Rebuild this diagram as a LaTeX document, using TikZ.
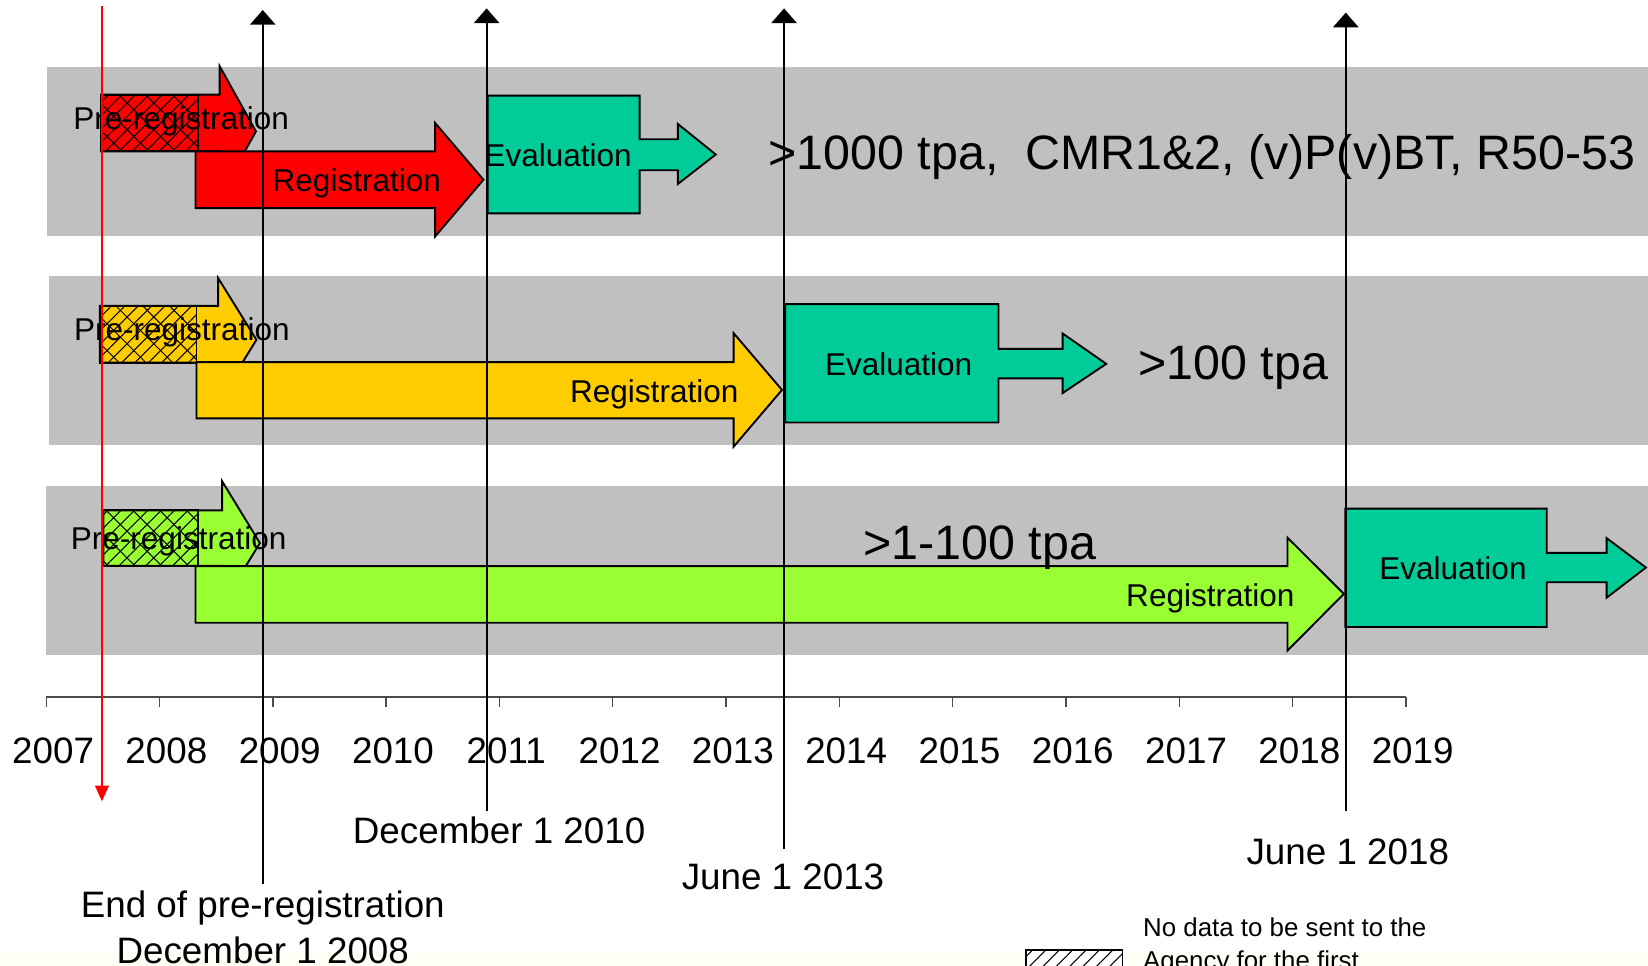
\documentclass[tikz,border=0pt]{standalone}
\usepackage{fontspec}
\setmainfont{Liberation Sans}
\usepackage{tikz}
\usetikzlibrary{arrows.meta,patterns.meta}
\definecolor{bandgrey}{RGB}{192,192,192}
\definecolor{regred}{RGB}{255,0,0}
\definecolor{regyellow}{RGB}{255,204,0}
\definecolor{reggreen}{RGB}{153,255,51}
\definecolor{evalgreen}{RGB}{0,204,153}
\definecolor{slidefoot}{RGB}{254,254,244}
\tikzstyle{band} = [fill=bandgrey]
\tikzstyle{outlined} = [draw=black, line width=0.9pt, line join=miter]
\tikzstyle{hatchA} = [pattern={Lines[angle=45,distance=4.5pt,line width=0.5pt]}, pattern color=black]
\tikzstyle{hatchB} = [pattern={Lines[angle=-45,distance=9pt,line width=0.5pt]}, pattern color=black]
\tikzstyle{phase} = [font=\fontsize{15}{18}\selectfont, inner sep=0pt, anchor=base]
\tikzstyle{group} = [font=\fontsize{23}{27}\selectfont, inner sep=0pt, anchor=base west]
\tikzstyle{year} = [font=\fontsize{17.5}{21}\selectfont, inner sep=0pt, anchor=base]
\tikzstyle{datelabel} = [font=\fontsize{17.5}{21}\selectfont, inner sep=0pt, anchor=base]
\tikzstyle{legendtext} = [font=\fontsize{12.3}{15}\selectfont, inner sep=0pt, anchor=base west]
\tikzstyle{milestone} = [draw, line width=1pt, -{Triangle[width=12pt,length=7pt]}]

\begin{document}
\begin{tikzpicture}[x=0.5pt, y=-0.5pt]
\useasboundingbox (0,0) rectangle (1568,919);
\clip (0,0) rectangle (1568,919);
\fill [slidefoot] (0,906) rectangle (1568,919);

% grey bands
\fill [band] (44.5,63.7) rectangle (1568,225);
\fill [band] (46.5,262.5) rectangle (1568,423.8);
\fill [band] (44,462) rectangle (1568,623.5);

% pre-registration arrows
\path [outlined, fill=regred] (96.5,90) -- (209,90) -- (209,63) -- (243.5,125) -- (209,187) -- (209,144) -- (96.5,144) -- cycle;
\path [outlined, fill=regyellow] (95,291) -- (207.6,291) -- (207.6,264.7) -- (244,323.3) -- (207.6,382) -- (207.6,345) -- (95,345) -- cycle;
\path [outlined, fill=reggreen] (98.3,485.6) -- (211.4,485.6) -- (211.4,458) -- (247.3,516.7) -- (211.4,575) -- (211.4,538.3) -- (98.3,538.3) -- cycle;

% no data period
\fill [hatchA] (96.5,90) rectangle (188.5,144);
\path [outlined, hatchB] (96.5,90) rectangle (188.5,144);
\fill [hatchA] (95,291) rectangle (187,345);
\path [outlined, hatchB] (95,291) rectangle (187,345);
\fill [hatchA] (98.3,485.6) rectangle (188,538.3);
\path [outlined, hatchB] (98.3,485.6) rectangle (188,538.3);

% registration arrows
\path [outlined, fill=regred] (186,144) -- (414,144) -- (414,117) -- (460,171) -- (414,225) -- (414,198) -- (186,198) -- cycle;
\path [outlined, fill=regyellow] (187,344.6) -- (698,344.6) -- (698,317) -- (744,371) -- (698,425) -- (698,398) -- (187,398) -- cycle;
\path [outlined, fill=reggreen] (186,538.6) -- (1225,538.6) -- (1225,511.6) -- (1278.6,565) -- (1225,619) -- (1225,592.5) -- (186,592.5) -- cycle;

% evaluation
\path [outlined, fill=evalgreen] (464,91) -- (608.5,91) -- (608.5,132.5) -- (645,132.5) -- (645,118) -- (681,147) -- (645,175) -- (645,162) -- (608.5,162) -- (608.5,203) -- (464,203) -- cycle;
\path [outlined, fill=evalgreen] (747,289.4) -- (950,289.4) -- (950,332) -- (1011,332) -- (1011,317.3) -- (1052.5,346.2) -- (1011,374) -- (1011,360) -- (950,360) -- (950,402) -- (747,402) -- cycle;
\path [outlined, fill=evalgreen] (1280,484) -- (1471.6,484) -- (1471.6,526) -- (1528.6,526) -- (1528.6,512) -- (1566,540) -- (1528.6,568.7) -- (1528.6,554) -- (1471.6,554) -- (1471.6,596.6) -- (1280,596.6) -- cycle;

\node [phase] (pre1) at (172.4,123) {Pre-registration};
\node [phase] (reg1) at (339.5,182) {Registration};
\node [phase] (eval1) at (531,158.5) {Evaluation};
\node [group] (tpa1000) at (731,161.7) {>1000 tpa,\ \ CMR1\&2, (v)P(v)BT, R50-53};

\node [phase] (pre2) at (173,323.5) {Pre-registration};
\node [phase] (reg2) at (622.5,382.6) {Registration};
\node [phase] (eval2) at (855,357.6) {Evaluation};
\node [group] (tpa100) at (1083,361) {>100 tpa};

\node [phase] (pre3) at (170,522.4) {Pre-registration};
\node [group, anchor=base] (tpa1) at (932.4,532) {>1-100 tpa};
\node [phase] (reg3) at (1151.6,576.6) {Registration};
\node [phase] (eval3) at (1382.4,551) {Evaluation};

% time axis
\draw [black!70, line width=0.7pt] (44,663) -- (1337.6,663);
\foreach \yr [count=\i from 0] in {2007,...,2019} {
  \draw [black!70, line width=0.7pt] (44+107.8*\i,663) -- (44+107.8*\i,673);
  \node [year] (y\yr) at (50.5+107.8*\i,726) {\yr};
}

% milestones
\coordinate (preTop) at (97,5.7);
\coordinate (preBot) at (97,762.4);
\coordinate (m08top) at (250,9.5);
\coordinate (m08bot) at (250,841);
\coordinate (m10top) at (463,8);
\coordinate (m10bot) at (463,772);
\coordinate (m13top) at (746,8);
\coordinate (m13bot) at (746,808);
\coordinate (m18top) at (1280.5,12);
\coordinate (m18bot) at (1280.5,772);

\draw [regred, line width=1pt, -{Triangle[width=6.5pt,length=7.5pt]}] (preTop) -- (preBot);
\path [milestone] (m08bot) -- (m08top);
\path [milestone] (m10bot) -- (m10top);
\path [milestone] (m13bot) -- (m13top);
\path [milestone] (m18bot) -- (m18top);

\node [datelabel] (endpre) at (250,873.4) {End of pre-registration};
\node [datelabel] (dec08) at (250,917) {December 1 2008};
\node [datelabel] (dec10) at (474.9,802.7) {December 1 2010};
\node [datelabel] (jun13) at (745,846.5) {June 1 2013};
\node [datelabel] (jun18) at (1282.4,823) {June 1 2018};

% legend
\fill [white] (976,903.5) rectangle (1068,930);
\path [outlined, hatchA] (976,903.5) rectangle (1068,930);
\node [legendtext] (lgd1) at (1087.3,891) {No data to be sent to the};
\node [legendtext] (lgd2) at (1087.3,922) {Agency for the first};
\end{tikzpicture}
\end{document}
